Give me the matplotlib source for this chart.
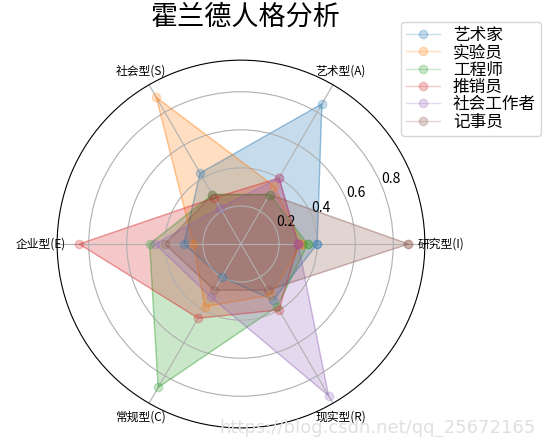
import numpy as np
import matplotlib
matplotlib.use('Agg')
import matplotlib.pyplot as plt

plt.rcParams['font.family'] = ['Noto Sans CJK SC', 'DejaVu Sans']
plt.rcParams['axes.unicode_minus'] = False

# 六个维度 (逆时针, 从 0° 开始)
dimensions = ['研究型(I)', '艺术型(A)', '社会型(S)', '企业型(E)', '常规型(C)', '现实型(R)']
jobs = ['艺术家', '实验员', '工程师', '推销员', '社会工作者', '记事员']

artist = [0.40, 0.85, 0.43, 0.30, 0.20, 0.34]
lab_tech = [0.32, 0.35, 0.89, 0.25, 0.38, 0.31]
engineer = [0.35, 0.30, 0.30, 0.48, 0.87, 0.38]
salesman = [0.30, 0.40, 0.28, 0.85, 0.45, 0.40]
social_worker = [0.30, 0.40, 0.22, 0.45, 0.32, 0.92]
clerk = [0.88, 0.30, 0.30, 0.40, 0.28, 0.28]
series = [artist, lab_tech, engineer, salesman, social_worker, clerk]

radial_ticks = [0.2, 0.4, 0.6, 0.8]

angles = np.linspace(0, 2 * np.pi, len(dimensions), endpoint=False)
angles_closed = np.concatenate([angles, angles[:1]])

fig = plt.figure(figsize=(5.44, 4.37), dpi=100)
ax = fig.add_axes([0.105, 0.0206, 0.676, 0.842], projection='polar')

for name, vals in zip(jobs, series):
    v = np.concatenate([vals, vals[:1]])
    line, = ax.plot(angles_closed, v, 'o-', linewidth=1, alpha=0.25, label=name)
    ax.fill(angles_closed, v, alpha=0.25, color=line.get_color())

ax.set_thetagrids(np.degrees(angles), dimensions, fontsize=8.5)
ax.tick_params(axis='x', pad=1)
ax.set_ylim(0, 0.966)
ax.set_yticks(radial_ticks)
ax.set_yticklabels([str(t) for t in radial_ticks], fontsize=10)

fig.text(246 / 544, 1 - 17 / 437, '霍兰德人格分析', fontsize=19.5,
         ha='center', va='center')

ax.legend(loc='upper right', bbox_to_anchor=(541 / 544, 1 - 22 / 437),
          bbox_transform=fig.transFigure, fontsize=12, labelspacing=0.02,
          borderpad=0.3, handletextpad=0.8, borderaxespad=0)

fig.text(0.985, 0.0, 'https://blog.csdn.net/qq_25672165', fontsize=13,
         color='#e0e0e0', ha='right', va='bottom', family='DejaVu Sans')

fig.savefig('out.png', dpi=100)
